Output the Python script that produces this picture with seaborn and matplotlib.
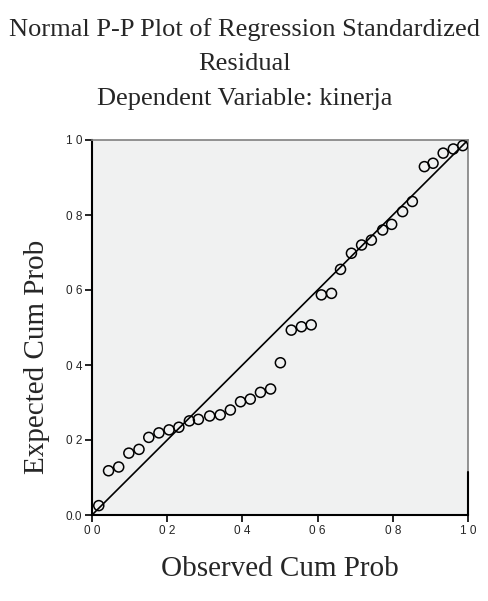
import matplotlib
matplotlib.use("Agg")
import matplotlib.pyplot as plt
import seaborn as sns
import pandas as pd

observed = [0.018, 0.044, 0.071, 0.098, 0.125, 0.151, 0.178, 0.205, 0.231, 0.259,
            0.283, 0.313, 0.341, 0.368, 0.395, 0.421, 0.448, 0.475, 0.501, 0.530,
            0.557, 0.583, 0.610, 0.637, 0.661, 0.690, 0.717, 0.743, 0.773, 0.797,
            0.826, 0.852, 0.884, 0.907, 0.934, 0.961, 0.986]
expected = [0.025, 0.118, 0.128, 0.165, 0.175, 0.207, 0.219, 0.227, 0.234, 0.251,
            0.255, 0.264, 0.267, 0.280, 0.302, 0.309, 0.327, 0.336, 0.406, 0.493,
            0.502, 0.507, 0.587, 0.591, 0.655, 0.698, 0.720, 0.733, 0.760, 0.775,
            0.809, 0.836, 0.929, 0.938, 0.965, 0.976, 0.985]
tick_values = [0.0, 0.2, 0.4, 0.6, 0.8, 1.0]
x_tick_labels = ["0 0", "0 2", "0 4", "0 6", "0 8", "1 0"]
y_tick_labels = ["0.0", "0 2", "0 4", "0 6", "0 8", "1 0"]

df = pd.DataFrame({"Observed Cum Prob": observed, "Expected Cum Prob": expected})

sns.set_style("white")
plt.rcParams['font.family'] = ['Liberation Serif', 'DejaVu Serif']

fig = plt.figure(figsize=(4.89, 6.01), dpi=100)
ax = fig.add_axes([92/489, 86/601, 376/489, 375/601])
ax.set_facecolor("#f0f1f1")

ax.plot([0, 1], [0, 1], color="black", lw=1.2, zorder=2)
sns.scatterplot(data=df, x="Observed Cum Prob", y="Expected Cum Prob", ax=ax,
                marker="o", s=52, facecolor="none", edgecolor="black",
                linewidth=1.1, zorder=3)

ax.set_xlim(0, 1)
ax.set_ylim(0, 1)
ax.set_xticks(tick_values)
ax.set_yticks(tick_values)
ax.set_xticklabels(x_tick_labels, family="Liberation Sans", fontsize=8.5)
ax.set_yticklabels(y_tick_labels, family="Liberation Sans", fontsize=8.5)
ax.tick_params(axis="both", direction="out", length=5, width=1.2, color="black",
               bottom=True, left=True, pad=2)

for side in ["left", "bottom"]:
    ax.spines[side].set_color("black")
    ax.spines[side].set_linewidth(1.5)
for side in ["top", "right"]:
    ax.spines[side].set_color("#808080")
    ax.spines[side].set_linewidth(1.2)
ax.axvline(1.0, ymin=0.0, ymax=0.115, color="black", lw=1.5, zorder=4, clip_on=False)

ax.set_xlabel("Observed Cum Prob", fontsize=21, labelpad=14)
ax.set_ylabel("Expected Cum Prob", fontsize=21)
ax.yaxis.set_label_coords(-0.112, 0.421)

fig.text(0.5, 1 - 30/601, "Normal P-P Plot of Regression Standardized",
         ha="center", va="center", fontsize=19)
fig.text(0.5, 1 - 64/601, "Residual", ha="center", va="center", fontsize=19)
fig.text(0.5, 1 - 99/601, "Dependent Variable: kinerja", ha="center", va="center", fontsize=19)

fig.savefig("out.png", dpi=100)
